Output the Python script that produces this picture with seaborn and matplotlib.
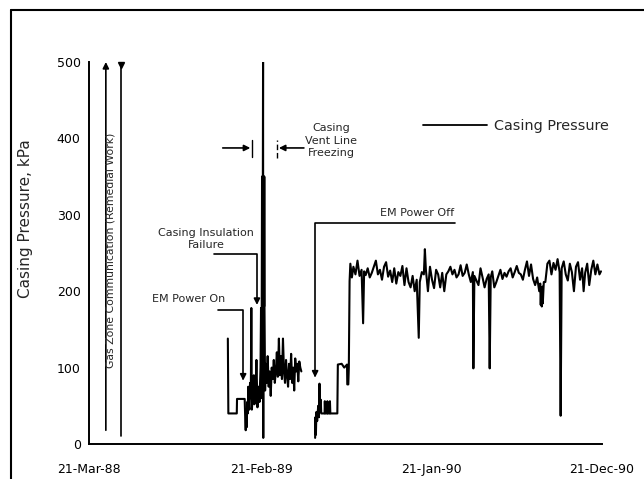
import matplotlib
matplotlib.use("Agg")
import matplotlib.pyplot as plt
from matplotlib.lines import Line2D
import pandas as pd
import seaborn as sns

# Day numbers are counted from 21-Mar-88.
tick_days = [0, 337, 671, 1005]
tick_labels = ["21-Mar-88", "21-Feb-89", "21-Jan-90", "21-Dec-90"]
y_ticks = [0, 100, 200, 300, 400, 500]

# EM power on, insulation failure and the vent-line freezing spike
on_days = [272, 273, 289.5, 290, 305, 306, 307, 308, 309, 310, 311, 312, 313, 314,
           315.5, 317, 318, 319, 321, 323, 324, 326, 328, 330, 332, 334, 336, 337,
           338, 339, 339.4, 339.8, 340.2, 340.6, 341, 341.4, 341.8, 342.2, 342.6,
           343, 343.4, 343.8, 345, 346, 348, 350, 352, 354, 356, 358, 360, 362,
           364, 366, 368, 370, 372, 374, 376, 378, 380, 382, 384, 386, 388, 390,
           392, 394, 396, 398, 400, 402, 404, 406, 408, 410, 412, 414, 416]
on_kpa = [138, 40, 40, 59, 59, 35, 18, 45, 22, 55, 40, 75, 58, 45,
          80, 60, 178, 45, 62, 90, 52, 60, 110, 48, 75, 55, 100, 178,
          60, 350, 180, 350, 180, 350, 500, 8, 350, 180, 350,
          180, 350, 178, 70, 105, 80, 115, 75, 95, 63, 100, 85, 110,
          80, 95, 120, 88, 138, 90, 115, 85, 138, 95, 80, 110, 90, 75,
          105, 85, 118, 80, 100, 70, 112, 95, 105, 82, 108, 100, 95]

# Restart after EM power off
restart_days = [443, 443.5, 444.5, 445.5, 447, 449, 450.5, 451.5, 452.5, 454, 455,
                461.5, 462, 462.8, 466.5, 467, 467.8, 471.5, 472, 472.8, 486.5,
                487.5, 495, 500, 504, 505.5, 506, 508, 509]
restart_kpa = [8, 35, 12, 42, 30, 50, 35, 79, 42, 58, 40,
               40, 56, 40, 40, 56, 40, 40, 56, 40, 40,
               104, 105, 100, 103, 104, 78, 78, 100]

# Steady operation
steady_days = [510.5, 512, 515, 518, 522, 526, 530, 534, 537, 539, 542, 546, 550,
               554, 558, 562, 566, 570, 574, 578, 582, 586, 590, 594, 598, 602,
               606, 610, 614, 618, 622, 626, 630, 634, 638, 642, 646, 648, 652,
               656, 658, 660, 664, 668, 672, 676, 680, 684, 688, 692, 696, 700,
               704, 708, 712, 716, 720, 724, 728, 732, 736, 740, 744, 748, 752,
               753, 755, 759, 763, 767, 771, 775, 779, 783, 785, 787, 790, 794,
               798, 802, 806, 810, 814, 818, 822, 826, 830, 834, 838, 842, 846,
               850, 854, 858, 862, 866, 870, 874, 878, 882, 884, 885, 886, 887,
               888, 889, 891, 894, 898, 902, 906, 910, 914, 918, 922, 924, 926,
               930, 934, 938, 942, 946, 950, 954, 958, 962, 966, 969, 972, 976,
               980, 984, 988, 992, 996, 1000, 1003]
steady_kpa = [213, 236, 218, 232, 222, 240, 220, 228, 158, 226, 221, 230, 218,
              224, 232, 240, 222, 228, 215, 232, 238, 219, 227, 212, 230, 210,
              225, 220, 233, 208, 230, 212, 205, 220, 200, 215, 139, 212, 225,
              222, 255, 228, 200, 232, 215, 204, 228, 222, 205, 224, 200, 222,
              226, 232, 222, 228, 218, 222, 234, 220, 224, 235, 222, 212, 225,
              99, 220, 214, 208, 230, 218, 205, 216, 222, 99, 218, 226, 205,
              212, 220, 228, 216, 224, 219, 226, 230, 218, 225, 233, 224, 222,
              215, 228, 239, 220, 235, 216, 208, 218, 200, 210, 182, 205, 180,
              206, 184, 212, 212, 236, 240, 222, 237, 228, 242, 225, 37, 230,
              239, 222, 214, 236, 225, 200, 232, 238, 215, 230, 200, 224, 236,
              208, 228, 240, 222, 235, 222, 226]

df = pd.concat([
    pd.DataFrame({"day": on_days, "kpa": on_kpa, "run": 1}),
    pd.DataFrame({"day": restart_days + steady_days,
                  "kpa": restart_kpa + steady_kpa, "run": 2}),
], ignore_index=True)

sns.set_style("white")
plt.rcParams["font.family"] = ["DejaVu Sans"]

fig = plt.figure(figsize=(6.44, 4.79), dpi=100)
ax = fig.add_axes([89 / 644, 35 / 479, 513 / 644, 382 / 479])

sns.lineplot(data=df, x="day", y="kpa", units="run", estimator=None, sort=False,
             color="black", lw=1.5, ax=ax, legend=False)

ax.set_xlim(0, 1005)
ax.set_ylim(0, 500)
ax.set_xticks(tick_days)
ax.set_xticklabels(tick_labels)
ax.set_yticks(y_ticks)
ax.set_xlabel("")
ax.set_ylabel("Casing Pressure, kPa", fontsize=11)
ax.yaxis.set_label_coords(-0.109, 0.591)
ax.tick_params(length=0, labelsize=9, colors="black")
ax.tick_params(axis="x", pad=14)
ax.tick_params(axis="y", pad=6)
for side in ("top", "right"):
    ax.spines[side].set_visible(False)
for side in ("left", "bottom"):
    ax.spines[side].set_linewidth(1.4)
    ax.spines[side].set_color("black")

arrow_kw = dict(arrowstyle="-|>", color="black", lw=1.2, shrinkA=0, shrinkB=0,
                mutation_scale=9)
elbow = "angle,angleA=0,angleB=90,rad=0"

# Gas zone communication period
ax.annotate("", xy=(33, 500), xytext=(33, 18), arrowprops=arrow_kw,
            annotation_clip=False)
ax.plot([63, 63], [11, 497], color="black", lw=1.2, clip_on=False)
ax.plot([63], [496], marker="v", color="black", ms=5, clip_on=False)
ax.text(43, 254, "Gas Zone Communication (Remedial Work)", rotation=90,
        ha="center", va="center", fontsize=7.8)

# EM power on
ax.text(196, 190, "EM Power On", ha="center", va="center", fontsize=8)
ax.annotate("", xy=(302, 83), xytext=(253, 176),
            arrowprops=dict(connectionstyle=elbow, **arrow_kw))

# Casing insulation failure
ax.text(229, 268, "Casing Insulation\nFailure", ha="center", va="center",
        multialignment="center", fontsize=8)
ax.annotate("", xy=(329, 182), xytext=(245, 249),
            arrowprops=dict(connectionstyle=elbow, **arrow_kw))

# Casing vent line freezing interval
ax.text(474, 397, "Casing\nVent Line\nFreezing", ha="center", va="center",
        multialignment="center", fontsize=8, linespacing=1.3)
ax.annotate("", xy=(316, 387.5), xytext=(262, 387.5), arrowprops=arrow_kw)
ax.plot([320, 320], [376, 398], color="black", lw=1.0)
ax.annotate("", xy=(372, 387.5), xytext=(421, 387.5), arrowprops=arrow_kw)
ax.plot([368, 368], [375, 398], color="black", lw=1.0, ls=(0, (4, 2)))

# EM power off
ax.text(642, 302, "EM Power Off", ha="center", va="center", fontsize=8)
ax.annotate("", xy=(443, 87), xytext=(717, 289),
            arrowprops=dict(connectionstyle=elbow, **arrow_kw))

ax.legend(handles=[Line2D([], [], color="black", lw=1.3)], labels=["Casing Pressure"],
          loc="center left", bbox_to_anchor=(0.651, 0.832), frameon=False,
          fontsize=10.4, handlelength=4.4, handletextpad=0.55, borderpad=0,
          borderaxespad=0)

# Page frame
fig.add_artist(Line2D([11 / 644, 1], [1 - 10 / 479, 1 - 10 / 479],
                      transform=fig.transFigure, color="black", lw=1.5))
fig.add_artist(Line2D([11 / 644, 11 / 644], [0, 1 - 10 / 479],
                      transform=fig.transFigure, color="black", lw=1.5))

fig.savefig("out.png", dpi=100)
